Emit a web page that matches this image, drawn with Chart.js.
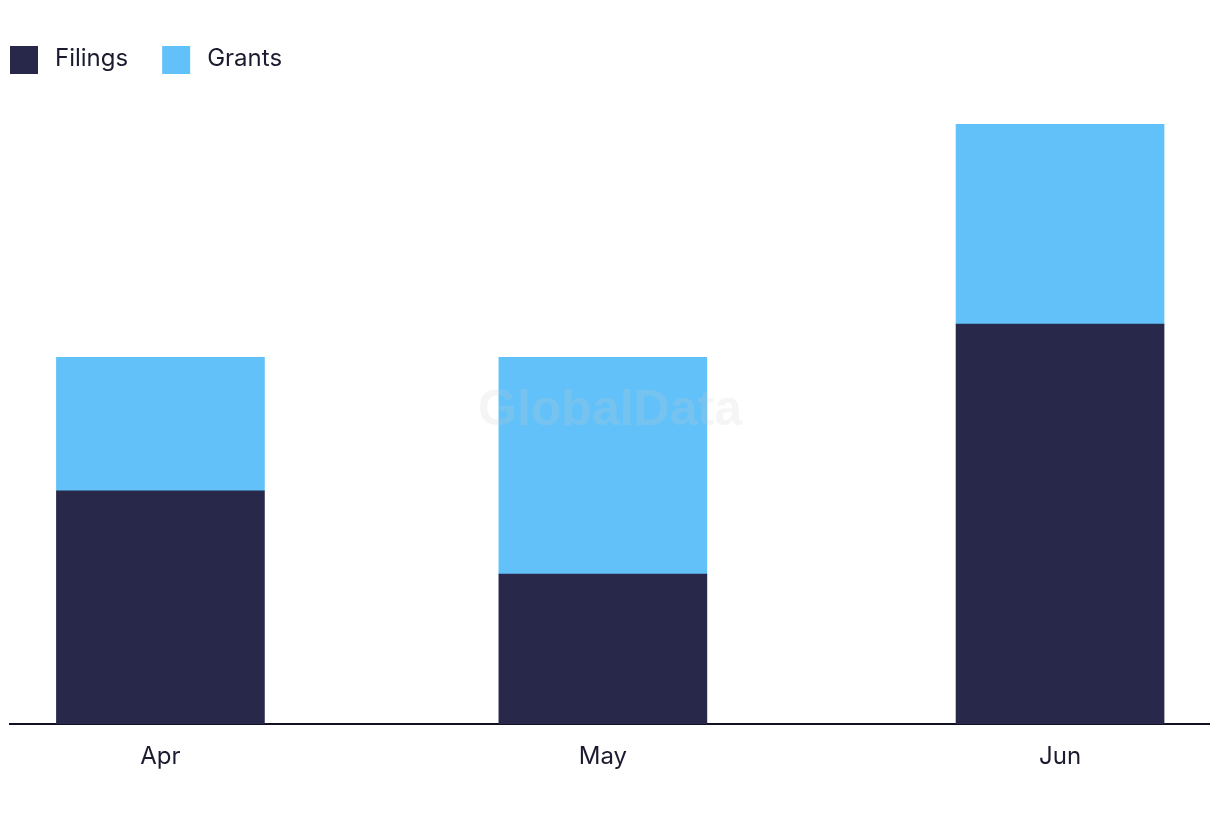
<!DOCTYPE html>
<html>
<head>
<meta charset="utf-8">
<script src="https://cdn.jsdelivr.net/npm/chart.js@4/dist/chart.umd.min.js"></script>
<style>
  html, body { margin: 0; padding: 0; background: #ffffff; }
  #wrap { width: 1220px; height: 822px; position: relative; }
</style>
</head>
<body>
<div id="wrap"><canvas id="chart"></canvas></div>
<script>
// month labels and the first day of each month (bars sit on a time-like axis)
const months = ['Apr', 'May', 'Jun']
const periodStarts = ['2024-04-01', '2024-05-01', '2024-06-01']
const filings = [14, 9, 24]
const grants = [8, 13, 12]

const DAY = 24 * 3600 * 1000
const t0 = Date.parse(periodStarts[0])
const dayOffsets = periodStarts.map(d => Math.round((Date.parse(d) - t0) / DAY))

const textColour = '#1b1b2f'
const fontFamily = 'Inter, "Noto Sans", sans-serif'

// faint brand watermark in the middle of the canvas
const watermark = {
  id: 'watermark',
  afterDatasetsDraw (chart) {
    const ctx = chart.ctx
    ctx.save()
    ctx.font = 'bold 50px "Liberation Sans", Arial, sans-serif'
    ctx.fillStyle = 'rgba(205, 205, 205, 0.2)'
    ctx.textAlign = 'center'
    ctx.textBaseline = 'middle'
    ctx.fillText('GlobalData', chart.width / 2, chart.height / 2)
    ctx.restore()
  }
}

// legend drawn by hand so the box / text spacing matches the original
const squareLegend = {
  id: 'squareLegend',
  afterDraw (chart) {
    const ctx = chart.ctx
    const box = 28
    let x = 10
    const y = 46
    ctx.save()
    ctx.font = '24px ' + fontFamily
    ctx.textBaseline = 'middle'
    ctx.textAlign = 'left'
    for (const ds of chart.data.datasets) {
      ctx.fillStyle = ds.backgroundColor
      ctx.fillRect(x, y, box, box)
      ctx.fillStyle = textColour
      const tx = x + box + 17
      ctx.fillText(ds.label, tx, y + box / 2 - 1)
      x = tx + ctx.measureText(ds.label).width + 34
    }
    ctx.restore()
  }
}

const toPoints = (values) => values.map((v, i) => ({ x: dayOffsets[i], y: v }))

new Chart(document.getElementById('chart'), { // eslint-disable-line
  type: 'bar',
  data: {
    datasets: [
      {
        label: 'Filings',
        data: toPoints(filings),
        backgroundColor: '#28284b',
        barThickness: 208
      },
      {
        label: 'Grants',
        data: toPoints(grants),
        backgroundColor: '#62c1f8',
        barThickness: 208
      }
    ]
  },
  options: {
    responsive: true,
    maintainAspectRatio: false,
    animation: false,
    layout: {
      padding: { left: 10, right: 11, top: 124, bottom: 41 }
    },
    plugins: {
      legend: { display: false },
      tooltip: { enabled: false }
    },
    scales: {
      x: {
        type: 'linear',
        stacked: true,
        offset: false,
        min: -10.2,
        max: 71.1,
        grid: { display: false },
        border: { display: true, color: '#111122', width: 2 },
        afterBuildTicks: (scale) => {
          scale.ticks = dayOffsets.map(v => ({ value: v }))
        },
        ticks: {
          autoSkip: false,
          maxRotation: 0,
          padding: 10,
          color: textColour,
          font: { family: fontFamily, size: 24 },
          callback: (value) => months[dayOffsets.indexOf(value)]
        }
      },
      y: {
        stacked: true,
        display: false,
        min: 0,
        max: 36
      }
    }
  },
  plugins: [watermark, squareLegend]
})
</script>
</body>
</html>
